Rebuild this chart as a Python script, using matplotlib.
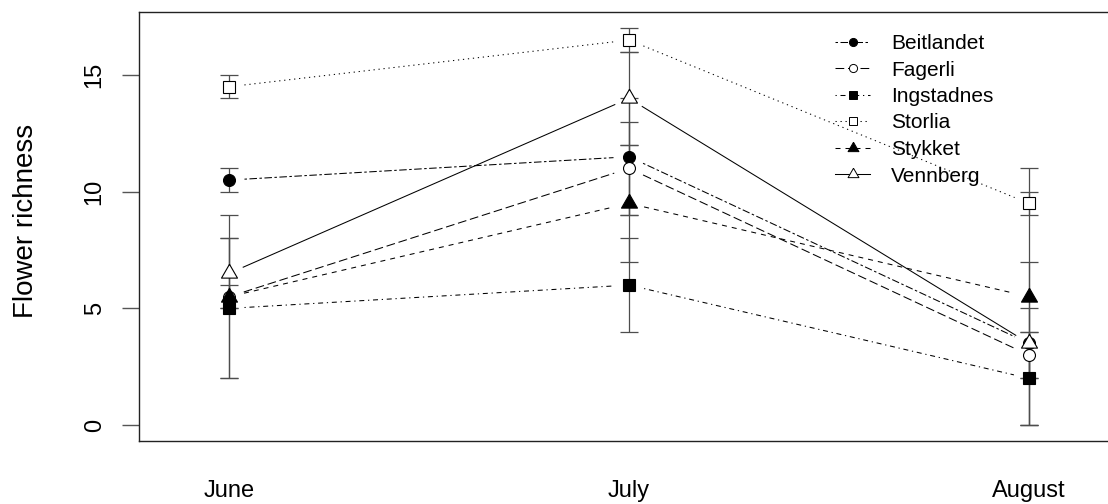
import matplotlib
matplotlib.use('Agg')
import matplotlib.pyplot as plt
from matplotlib.lines import Line2D
import numpy as np

plt.rcParams['font.family'] = ['Liberation Sans', 'DejaVu Sans']
plt.rcParams['lines.scale_dashes'] = False

months = ['June', 'July', 'August']
sites = ['Beitlandet', 'Fagerli', 'Ingstadnes', 'Storlia', 'Stykket', 'Vennberg']

# mean flower richness per site and month
beitlandet = [10.5, 11.5, 3.5]
fagerli = [5.5, 11.0, 3.0]
ingstadnes = [5.0, 6.0, 2.0]
storlia = [14.5, 16.5, 9.5]
stykket = [5.5, 9.5, 5.5]
vennberg = [6.5, 14.0, 3.5]

# half length of the error bars
beitlandet_err = [0.5, 2.5, 3.5]
fagerli_err = [0.5, 2.0, 1.0]
ingstadnes_err = [3.0, 2.0, 2.0]
storlia_err = [0.5, 0.5, 0.5]
stykket_err = [3.5, 2.5, 5.5]
vennberg_err = [1.5, 2.0, 1.5]

means = [beitlandet, fagerli, ingstadnes, storlia, stykket, vennberg]
errs = [beitlandet_err, fagerli_err, ingstadnes_err, storlia_err, stykket_err, vennberg_err]

# triangle centred on its centroid, like R's pch 2 / 17
tri = [(0, 1), (-0.866, -0.5), (0.866, -0.5), (0, 1)]

# R style line types (twodash, longdash, dotdash, dotted, dashed, solid)
ltys = [(0, (1.8, 1.8, 5.4, 1.8)), (0, (6.3, 2.7)), (0, (0.9, 2.7, 3.6, 2.7)),
        (0, (0.9, 2.7)), (0, (3.6, 3.6)), '-']
marks = ['o', 'o', 's', 's', tri, tri]
faces = ['black', 'white', 'black', 'white', 'black', 'white']
msize = [8.6, 8.6, 9.0, 8.4, 13.3, 13.3]

W, H = 1108, 504
fig = plt.figure(figsize=(W / 100, H / 100), dpi=100)
left, right, top, bottom = 139, 1160, 12.3, 440.7
ax = fig.add_axes([left / W, (H - bottom) / H, (right - left) / W, (bottom - top) / H])
ax.set_xlim(0.775, 3.3275)
ax.set_ylim(-0.67, 17.69)

x = np.arange(1, len(months) + 1)

def gapped(xs, ys, gap=15.5):
	pts = ax.transData.transform(np.column_stack([xs, ys]))
	inv = ax.transData.inverted()
	segs = []
	for p, q in zip(pts[:-1], pts[1:]):
		d = q - p
		u = d / np.hypot(*d)
		segs.append(inv.transform(np.array([p + u * gap, q - u * gap])))
	return segs

for i in range(len(sites)):
	ax.errorbar(x, means[i], yerr=errs[i], fmt='none', ecolor='#4d4d4d',
		elinewidth=0.9, capsize=6.8, capthick=0.9, zorder=2)

for i in range(len(sites)):
	for seg in gapped(x, means[i]):
		ax.plot(seg[:, 0], seg[:, 1], color='black', lw=0.75, linestyle=ltys[i], zorder=3)
	ax.plot(x, means[i], linestyle='none', marker=marks[i], ms=msize[i],
		mfc=faces[i], mec='black', mew=0.8, zorder=4)

handles = [Line2D([], [], color='black', lw=0.75, linestyle=ltys[i], marker=marks[i],
	ms=msize[i] * 0.68, mfc=faces[i], mec='black', mew=0.7) for i in range(len(sites))]
leg = ax.legend(handles, sites, loc='upper left', frameon=False, fontsize=15,
	bbox_to_anchor=(835 / W, (H - 34) / H), bbox_transform=fig.transFigure,
	handlelength=1.68, handletextpad=1.0, labelspacing=0.36, borderpad=0, borderaxespad=0)
leg.set_zorder(1)

ax.set_xticks(x)
ax.set_xticklabels(months, fontsize=17)
ax.tick_params(axis='x', length=0, pad=28)
ax.set_yticks([0, 5, 10, 15])
ax.set_yticklabels(['0', '5', '10', '15'], fontsize=17, rotation=90, va='center')
ax.tick_params(axis='y', length=12, width=1, color='#555555', pad=12)

for s in ax.spines.values():
	s.set_color('#222222')
	s.set_linewidth(1)

fig.text(26 / W, 1 - 221 / H, 'Flower richness', rotation=90, fontsize=20,
	ha='center', va='center')

plt.savefig('out.png', dpi=100)
